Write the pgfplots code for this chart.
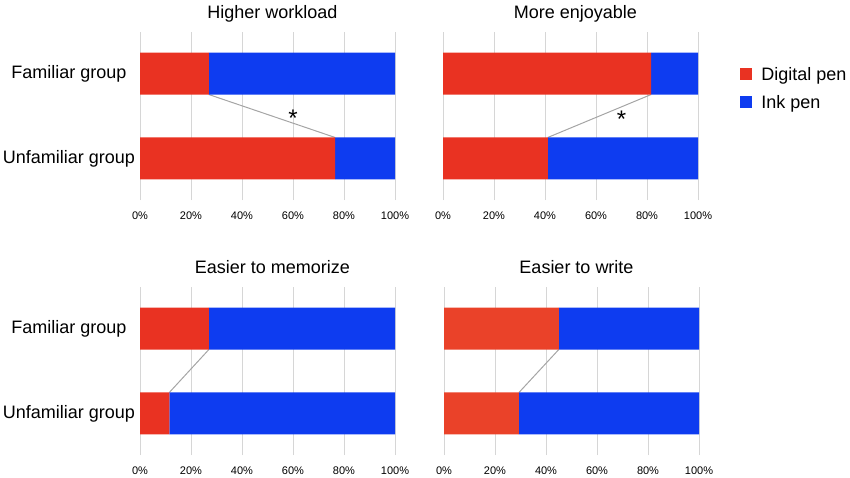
\documentclass[border=0pt]{standalone}
\usepackage{fontspec}
\setmainfont{Liberation Sans}
\usepackage{pgfplots}
\pgfplotsset{compat=1.18}
\definecolor{dred}{RGB}{233,50,34}
\definecolor{dredb}{RGB}{234,66,41}
\definecolor{iblue}{RGB}{14,60,240}
\definecolor{gridc}{RGB}{214,214,214}
\definecolor{linec}{RGB}{165,165,165}
\pgfplotsset{
 panel/.style={
  scale only axis, width=255pt, height=168pt,
  xbar stacked, bar width=42pt,
  xmin=0, xmax=100, ymin=-0.49, ymax=1.49,
  xtick={0,20,40,60,80,100},
  xticklabel={\pgfmathprintnumber{\tick}\%},
  ytick={0,1},
  yticklabels={Unfamiliar group,Familiar group},
  axis line style={draw=none},
  major tick style={draw=none},
  xmajorgrids, grid style={gridc, line width=1pt},
  /pgf/number format/assume math mode=true,
  xticklabel style={font=\fontsize{11}{13}\selectfont, yshift=-8.5pt},
  yticklabel style={font=\fontsize{18}{21}\selectfont, anchor=center, xshift=-71pt},
  title style={font=\fontsize{18}{21}\selectfont, at={(axis description cs:0.5,1)}, anchor=base, yshift=8pt, xshift=5pt},
  clip=false,
  anchor=north west,
 },
 conn/.style={sharp plot, stack plots=false, linec, line width=1pt, mark=none, forget plot},
}
\begin{document}
\begin{tikzpicture}
\path[use as bounding box] (0pt,0pt) rectangle (850pt,-477pt);
% Higher workload
\begin{axis}[panel, at={(140pt,-32pt)}, title={Higher workload}]
\addplot[fill=dred, draw=none] coordinates {(76.5,0) (27,1)};
\addplot[fill=iblue, draw=none] coordinates {(23.5,0) (73,1)};
\addplot[conn] coordinates {(27,0.753) (76.5,0.247)};
\node[font=\fontsize{24}{26}\selectfont, inner sep=0pt] at (axis cs:60,0.47) {*};
\end{axis}
% More enjoyable
\begin{axis}[panel, at={(443pt,-32pt)}, title={More enjoyable}, yticklabels={},
  legend style={at={(axis description cs:1.165,0.805)}, anchor=north west, draw=none, fill=none,
    font=\fontsize{18}{21}\selectfont, row sep=9.5pt, column sep=7pt, inner sep=0pt, legend cell align=left}]
\addplot[fill=dred, draw=none, legend image code/.code={\fill[dred] (0pt,-6pt) rectangle (12pt,6pt);}] coordinates {(41.1,0) (81.6,1)};
\addlegendentry{Digital pen}
\addplot[fill=iblue, draw=none, legend image code/.code={\fill[iblue] (0pt,-6pt) rectangle (12pt,6pt);}] coordinates {(58.9,0) (18.4,1)};
\addlegendentry{Ink pen}
\addplot[conn] coordinates {(81.6,0.753) (41.1,0.247)};
\node[font=\fontsize{24}{26}\selectfont, inner sep=0pt] at (axis cs:70,0.46) {*};
\end{axis}
% Easier to memorize
\begin{axis}[panel, at={(140pt,-287pt)}, title={Easier to memorize}]
\addplot[fill=dred, draw=none] coordinates {(11.5,0) (27,1)};
\addplot[fill=iblue, draw=none] coordinates {(88.5,0) (73,1)};
\addplot[conn] coordinates {(27,0.753) (11.5,0.247)};
\end{axis}
% Easier to write
\begin{axis}[panel, at={(444pt,-287pt)}, title={Easier to write}, yticklabels={}]
\addplot[fill=dredb, draw=none] coordinates {(29.4,0) (45,1)};
\addplot[fill=iblue, draw=none] coordinates {(70.6,0) (55,1)};
\addplot[conn] coordinates {(45,0.753) (29.4,0.247)};
\end{axis}
\end{tikzpicture}
\end{document}
